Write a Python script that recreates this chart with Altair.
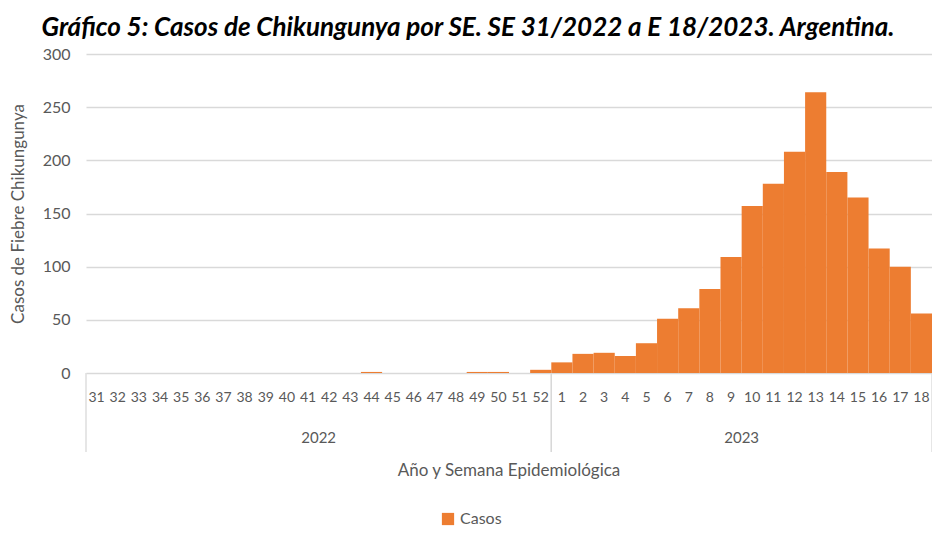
import altair as alt
import pandas as pd

# --- data ---
weeks_2022 = [31, 32, 33, 34, 35, 36, 37, 38, 39, 40, 41, 42, 43, 44, 45, 46, 47, 48, 49, 50, 51, 52]
cases_2022 = [0, 0, 0, 0, 0, 0, 0, 0, 0, 0, 0, 0, 0, 1, 0, 0, 0, 0, 1, 1, 0, 3]
weeks_2023 = [1, 2, 3, 4, 5, 6, 7, 8, 9, 10, 11, 12, 13, 14, 15, 16, 17, 18]
cases_2023 = [10, 18, 19, 16, 28, 51, 61, 79, 109, 157, 178, 208, 264, 189, 165, 117, 100, 56]
years = ["2022", "2023"]
series_name = "Casos"

rows = []
i = 0
for yr, wks, vals in [(years[0], weeks_2022, cases_2022), (years[1], weeks_2023, cases_2023)]:
    for w, v in zip(wks, vals):
        rows.append({"i": i, "i2": i + 1, "mid": i + 0.5, "week": str(w), "year": yr,
                     "casos": v, "serie": series_name})
        i += 1
df = pd.DataFrame(rows)

W, H = 846, 319
FONT = "Lato"
GRAY = "#595959"
ORANGE = "#ED7D31"

xscale = alt.Scale(domain=[0, len(df)], nice=False, zero=False, padding=0)

base = alt.Chart(df)

bars = base.mark_rect(color=ORANGE).encode(
    x=alt.X("i:Q", scale=xscale, axis=None),
    x2="i2:Q",
    y=alt.Y("casos:Q", scale=alt.Scale(domain=[0, 300], padding=0),
            axis=alt.Axis(values=[0, 50, 100, 150, 200, 250, 300], title="Casos de Fiebre Chikungunya",
                          grid=True, gridColor="#d9d9d9", gridWidth=1.3, domain=False, ticks=False,
                          labelFont=FONT, labelFontSize=16, labelColor=GRAY, labelPadding=16,
                          titleFont=FONT, titleFontSize=17, titleColor=GRAY, titleFontWeight="normal",
                          titlePadding=15)),
    y2=alt.datum(0),
    color=alt.Color("serie:N", scale=alt.Scale(range=[ORANGE]),
                    legend=alt.Legend(orient="none", legendX=354, legendY=457, title=None,
                                      symbolType="square", symbolSize=150, symbolStrokeWidth=0,
                                      labelFont=FONT, labelFontSize=16, labelColor=GRAY,
                                      direction="horizontal")),
)

week_labels = base.mark_text(font=FONT, fontSize=14, color=GRAY, baseline="middle").encode(
    x=alt.X("mid:Q", scale=xscale, axis=None),
    y=alt.value(H + 25),
    text="week:N",
)

year_labels = base.transform_aggregate(
    center="mean(mid)", groupby=["year"]
).mark_text(font=FONT, fontSize=15, color=GRAY, baseline="middle").encode(
    x=alt.X("center:Q", scale=xscale, axis=None),
    y=alt.value(H + 65),
    text="year:N",
)

separators = base.transform_aggregate(
    start="min(i)", end="max(i2)", groupby=["year"]
).transform_fold(["start", "end"], as_=["edge", "pos"]).mark_rule(
    color="#d9d9d9", strokeWidth=1.3
).encode(
    x=alt.X("pos:Q", scale=xscale, axis=None),
    y=alt.value(H),
    y2=alt.value(H + 79),
)

xtitle = alt.Chart(pd.DataFrame({"t": ["Año y Semana Epidemiológica"]})).mark_text(
    font=FONT, fontSize=17, color=GRAY, baseline="middle"
).encode(
    x=alt.value(W / 2),
    y=alt.value(H + 98),
    text="t:N",
)

chart = alt.layer(separators, bars, week_labels, year_labels, xtitle).properties(
    width=W,
    height=H,
    autosize=alt.AutoSizeParams(type="none"),
    padding={"left": 78, "top": 46, "right": 0, "bottom": 158},
    title=alt.TitleParams(
        "Gráfico 5: Casos de Chikungunya por SE. SE 31/2022 a E 18/2023. Argentina.",
        font=FONT, fontSize=26, fontWeight="bold", fontStyle="italic", color="black",
        anchor="middle", dx=-41, offset=5,
    ),
).configure_view(stroke=None)

chart.save("out.html", embed_options={"renderer": "svg", "actions": False})
